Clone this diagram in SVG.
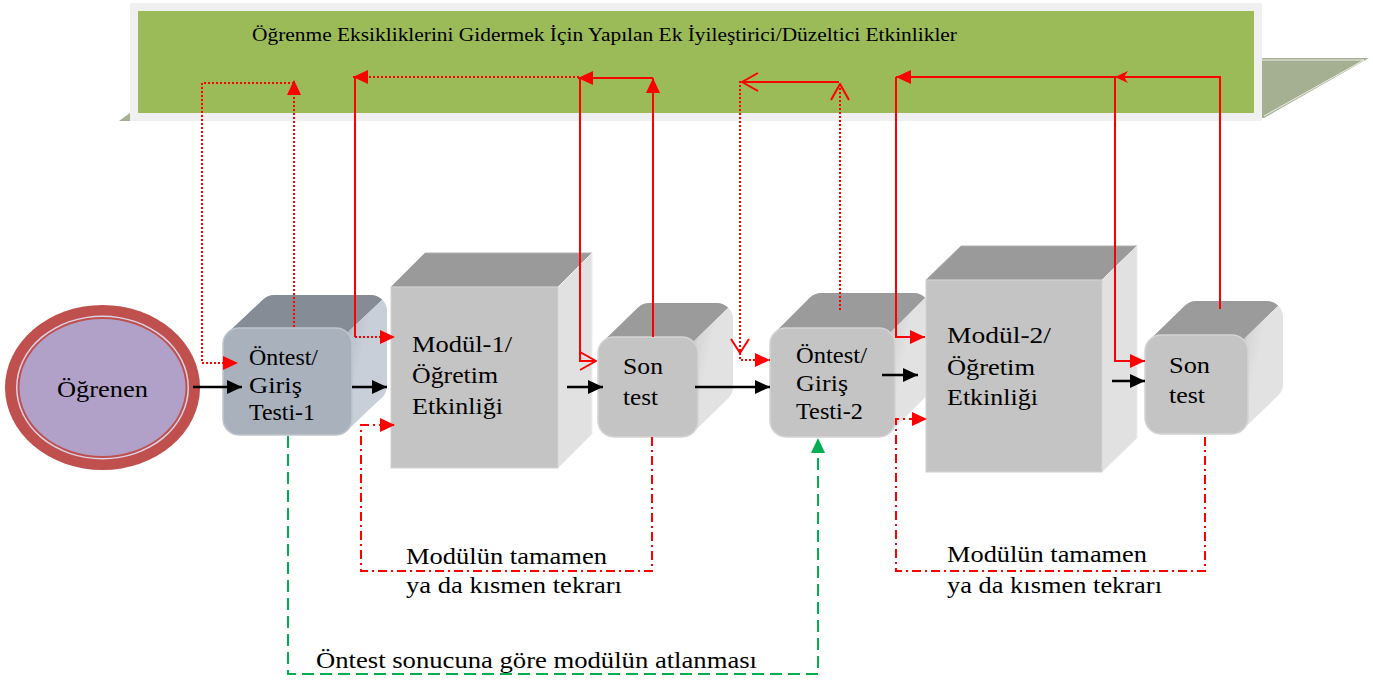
<svg xmlns="http://www.w3.org/2000/svg" width="1373" height="680" viewBox="0 0 1373 680">
<style>
  text { font-family: "Liberation Serif", "DejaVu Serif", serif; fill: #000; }
  .t19 { font-size: 19px; }
  .t23 { font-size: 23px; }
  .t24 { font-size: 24px; }
  .red { fill: none; stroke: #FF0000; stroke-width: 2; }
  .dot { stroke-dasharray: 2 2; }
  .dd { stroke-dasharray: 9 4 2 4; }
  .blk { fill: none; stroke: #000; stroke-width: 2.5; }
  .grn { fill: none; stroke: #00B050; stroke-width: 2; stroke-dasharray: 12 6; }
  .gfront { fill: #C4C4C4; stroke: #D4D4D4; stroke-width: 1.5; }
  .gtop { fill: #9B9B9B; }
  .gside { fill: url(#gSide); }
  .bfront { fill: #A9B1BC; stroke: #BEC5CE; stroke-width: 1.5; }
  .btop { fill: #858C96; }
  .bside { fill: url(#bSide); }
  .cfront { fill: #C4C4C4; stroke: #D2D2D2; stroke-width: 1; }
  .ctop { fill: #9A9A9A; stroke: #B0B0B0; stroke-width: 1; }
  .cside { fill: #E1E1E1; stroke: #EDEDED; stroke-width: 1; }
</style>
<defs>
  <linearGradient id="gSide" x1="0" y1="0" x2="0.45" y2="0.3">
    <stop offset="0" stop-color="#9E9E9E"/>
    <stop offset="0.45" stop-color="#D6D6D6"/>
    <stop offset="1" stop-color="#E2E2E2"/>
  </linearGradient>
  <linearGradient id="bSide" x1="0" y1="0" x2="0.45" y2="0.3">
    <stop offset="0" stop-color="#8A919B"/>
    <stop offset="0.45" stop-color="#BCC3CD"/>
    <stop offset="1" stop-color="#C8CFD9"/>
  </linearGradient>
  <marker id="aR" viewBox="0 0 15 14" refX="15" refY="7" markerWidth="15" markerHeight="14" markerUnits="userSpaceOnUse" orient="auto">
    <path d="M0,0 L15,7 L0,14 Z" fill="#FF0000"/>
  </marker>
  <marker id="aRs" viewBox="0 0 13 12" refX="13" refY="6" markerWidth="13" markerHeight="12" markerUnits="userSpaceOnUse" orient="auto">
    <path d="M0,0 L13,6 L0,12 L4,6 Z" fill="#FF0000"/>
  </marker>
  <marker id="aK" viewBox="0 0 15 14" refX="15" refY="7" markerWidth="15" markerHeight="14" markerUnits="userSpaceOnUse" orient="auto">
    <path d="M0,0 L15,7 L0,14 Z" fill="#000"/>
  </marker>
  <marker id="aG" viewBox="0 0 15 14" refX="15" refY="7" markerWidth="15" markerHeight="14" markerUnits="userSpaceOnUse" orient="auto">
    <path d="M0,0 L15,7 L0,14 Z" fill="#00B050"/>
  </marker>
  <marker id="chev" viewBox="-2 -2 19 22" refX="16" refY="9" markerWidth="19" markerHeight="22" markerUnits="userSpaceOnUse" orient="auto">
    <path d="M0,0 L16,9 L0,18" fill="none" stroke="#FF0000" stroke-width="2"/>
  </marker>
</defs>

<g id="banner">
  <polygon points="1255,58 1369,58 1264,118 1255,118" fill="#A5B093"/>
  <polyline points="1262,60 1364,60 1264,116" fill="none" stroke="#FFFFFF" stroke-width="1" opacity="0.8"/>
  <polygon points="119,121 130,113 130,121" fill="#A5B093"/>
  <rect x="130" y="3" width="1132" height="118" fill="#F0F0F0"/>
  <rect x="138" y="11" width="1116" height="102" fill="#9BBB59"/>
  <text class="t19" x="252" y="41" textLength="705" lengthAdjust="spacingAndGlyphs">Öğrenme Eksikliklerini Gidermek İçin Yapılan Ek İyileştirici/Düzeltici Etkinlikler</text>
</g>

<g id="ogrenen">
  <ellipse cx="102.5" cy="387.5" rx="97.5" ry="82.5" fill="#C0504D"/>
  <ellipse cx="102.5" cy="387.5" rx="86.5" ry="72" fill="#DCD3E8"/>
  <ellipse cx="102.5" cy="387.5" rx="85" ry="70.5" fill="#C0504D"/>
  <ellipse cx="102.5" cy="387.5" rx="83" ry="68.5" fill="#B1A0C7"/>
  <text class="t24" x="57" y="397" textLength="91" lengthAdjust="spacingAndGlyphs">Öğrenen</text>
</g>

<g id="ontest1">
  <path class="btop" d="M227.7,332.7 L262.7,299.7 A16,16 0 0 1 274,295 L371,295 A16,16 0 0 1 382.3,299.7 L347.3,332.7 Z"/>
  <path class="bside" d="M347.3,332.7 L382.3,299.7 A16,16 0 0 1 387,311 L387,386 A16,16 0 0 1 382.3,397.3 L347.3,430.3 Z"/>
  <rect class="bfront" x="223" y="328" width="129" height="107" rx="16"/>
  <text class="t23" x="249" y="365" textLength="69" lengthAdjust="spacingAndGlyphs">Öntest/</text>
  <text class="t23" x="249" y="393" textLength="53" lengthAdjust="spacingAndGlyphs">Giriş</text>
  <text class="t23" x="249" y="420" textLength="66" lengthAdjust="spacingAndGlyphs">Testi-1</text>
</g>

<g id="modul1">
  <polygon class="ctop" points="391,287 425,253 592,253 558,287"/>
  <polygon class="cside" points="558,287 592,253 592,434 558,468"/>
  <rect class="cfront" x="391" y="287" width="167" height="181"/>
  <text class="t24" x="412" y="352" textLength="100" lengthAdjust="spacingAndGlyphs">Modül-1/</text>
  <text class="t24" x="412" y="383" textLength="86" lengthAdjust="spacingAndGlyphs">Öğretim</text>
  <text class="t24" x="412" y="414" textLength="91" lengthAdjust="spacingAndGlyphs">Etkinliği</text>
</g>

<g id="sontest1">
  <path class="gtop" d="M602.7,341.7 L637.7,307.7 A16,16 0 0 1 649,303 L717,303 A16,16 0 0 1 728.3,307.7 L693.3,341.7 Z"/>
  <path class="gside" d="M693.3,341.7 L728.3,307.7 A16,16 0 0 1 733,319 L733,387 A16,16 0 0 1 728.3,398.3 L693.3,432.3 Z"/>
  <rect class="gfront" x="598" y="337" width="100" height="100" rx="16"/>
  <text class="t24" x="623" y="374" textLength="40" lengthAdjust="spacingAndGlyphs">Son</text>
  <text class="t24" x="623" y="405" textLength="35" lengthAdjust="spacingAndGlyphs">test</text>
</g>

<g id="ontest2">
  <path class="gtop" d="M774.7,332.7 L809.7,297.7 A16,16 0 0 1 821,293 L914,293 A16,16 0 0 1 925.3,297.7 L890.3,332.7 Z"/>
  <path class="gside" d="M890.3,332.7 L925.3,297.7 A16,16 0 0 1 930,309 L930,386 A16,16 0 0 1 925.3,397.3 L890.3,432.3 Z"/>
  <rect class="gfront" x="770" y="328" width="125" height="109" rx="16"/>
  <text class="t23" x="796" y="363" textLength="71" lengthAdjust="spacingAndGlyphs">Öntest/</text>
  <text class="t23" x="796" y="391" textLength="52" lengthAdjust="spacingAndGlyphs">Giriş</text>
  <text class="t23" x="796" y="419" textLength="67" lengthAdjust="spacingAndGlyphs">Testi-2</text>
</g>

<g id="modul2">
  <polygon class="ctop" points="926,280 961,246 1137,246 1102,280"/>
  <polygon class="cside" points="1102,280 1137,246 1137,438 1102,472"/>
  <rect class="cfront" x="926" y="280" width="176" height="192"/>
  <text class="t24" x="947" y="343" textLength="104" lengthAdjust="spacingAndGlyphs">Modül-2/</text>
  <text class="t24" x="947" y="375" textLength="88" lengthAdjust="spacingAndGlyphs">Öğretim</text>
  <text class="t24" x="947" y="405" textLength="91" lengthAdjust="spacingAndGlyphs">Etkinliği</text>
</g>

<g id="sontest2">
  <path class="gtop" d="M1149.7,339.7 L1184.7,305.7 A16,16 0 0 1 1196,301 L1267,301 A16,16 0 0 1 1278.3,305.7 L1243.3,339.7 Z"/>
  <path class="gside" d="M1243.3,339.7 L1278.3,305.7 A16,16 0 0 1 1283,317 L1283,384 A16,16 0 0 1 1278.3,395.3 L1243.3,429.3 Z"/>
  <rect class="gfront" x="1145" y="335" width="103" height="99" rx="16"/>
  <text class="t24" x="1169" y="373" textLength="41" lengthAdjust="spacingAndGlyphs">Son</text>
  <text class="t24" x="1169" y="403" textLength="36" lengthAdjust="spacingAndGlyphs">test</text>
</g>

<g id="connectors">
  <path class="blk" d="M193,387 H242" marker-end="url(#aK)"/>
  <path class="blk" d="M352,387 H387" marker-end="url(#aK)"/>
  <path class="blk" d="M567,387 H603" marker-end="url(#aK)"/>
  <path class="blk" d="M695,387 H770" marker-end="url(#aK)"/>
  <path class="blk" d="M882,375 H918" marker-end="url(#aK)"/>
  <path class="blk" d="M1112,381 H1145" marker-end="url(#aK)"/>

  <path class="red dot" d="M294,327 V80" marker-end="url(#aR)"/>
  <path class="red dot" d="M294,83 H202 V363 H238" marker-end="url(#aR)"/>

  <path class="red" d="M653,337 V78" marker-end="url(#aR)"/>
  <path class="red" d="M653,78 H578" marker-end="url(#aR)"/>
  <path class="red dot" d="M579,77 H353" marker-end="url(#aR)"/>
  <path class="red" d="M355,77 V337"/>
  <path class="red dot" d="M355,337 H395" marker-end="url(#aR)"/>
  <path class="red" d="M580,78 V361 H596" marker-end="url(#chev)"/>

  <path class="red dd" d="M652,437 V571 H361 V425 H395" marker-end="url(#aR)"/>

  <path class="red dot" d="M840,310 V84" marker-end="url(#chev)"/>
  <path class="red" d="M839,82 H742" marker-end="url(#chev)"/>
  <path class="red dot" d="M740,81 V360 H770" marker-end="url(#aR)"/>
  <polyline class="red" points="731,339 740,353 749,339"/>

  <path class="red" d="M1220,309 V77 H1115" marker-end="url(#aRs)"/>
  <path class="red" d="M1115,77 H896" marker-end="url(#aR)"/>
  <path class="red" d="M896,77 V337 H925" marker-end="url(#aR)"/>
  <path class="red" d="M1115,77 V361 H1145" marker-end="url(#aR)"/>

  <path class="red dd" d="M1205,437 V571 H896 V419 H927" marker-end="url(#aR)"/>

  <path class="grn" d="M288,436 V674 H818 V438" marker-end="url(#aG)"/>
</g>

<g id="labels">
  <text class="t24" x="406" y="564" textLength="201" lengthAdjust="spacingAndGlyphs">Modülün tamamen</text>
  <text class="t24" x="406" y="593" textLength="216" lengthAdjust="spacingAndGlyphs">ya da kısmen tekrarı</text>
  <text class="t24" x="947" y="562" textLength="200" lengthAdjust="spacingAndGlyphs">Modülün tamamen</text>
  <text class="t24" x="947" y="593" textLength="215" lengthAdjust="spacingAndGlyphs">ya da kısmen tekrarı</text>
  <text class="t24" x="316" y="668" textLength="441" lengthAdjust="spacingAndGlyphs">Öntest sonucuna göre modülün atlanması</text>
</g>
</svg>
